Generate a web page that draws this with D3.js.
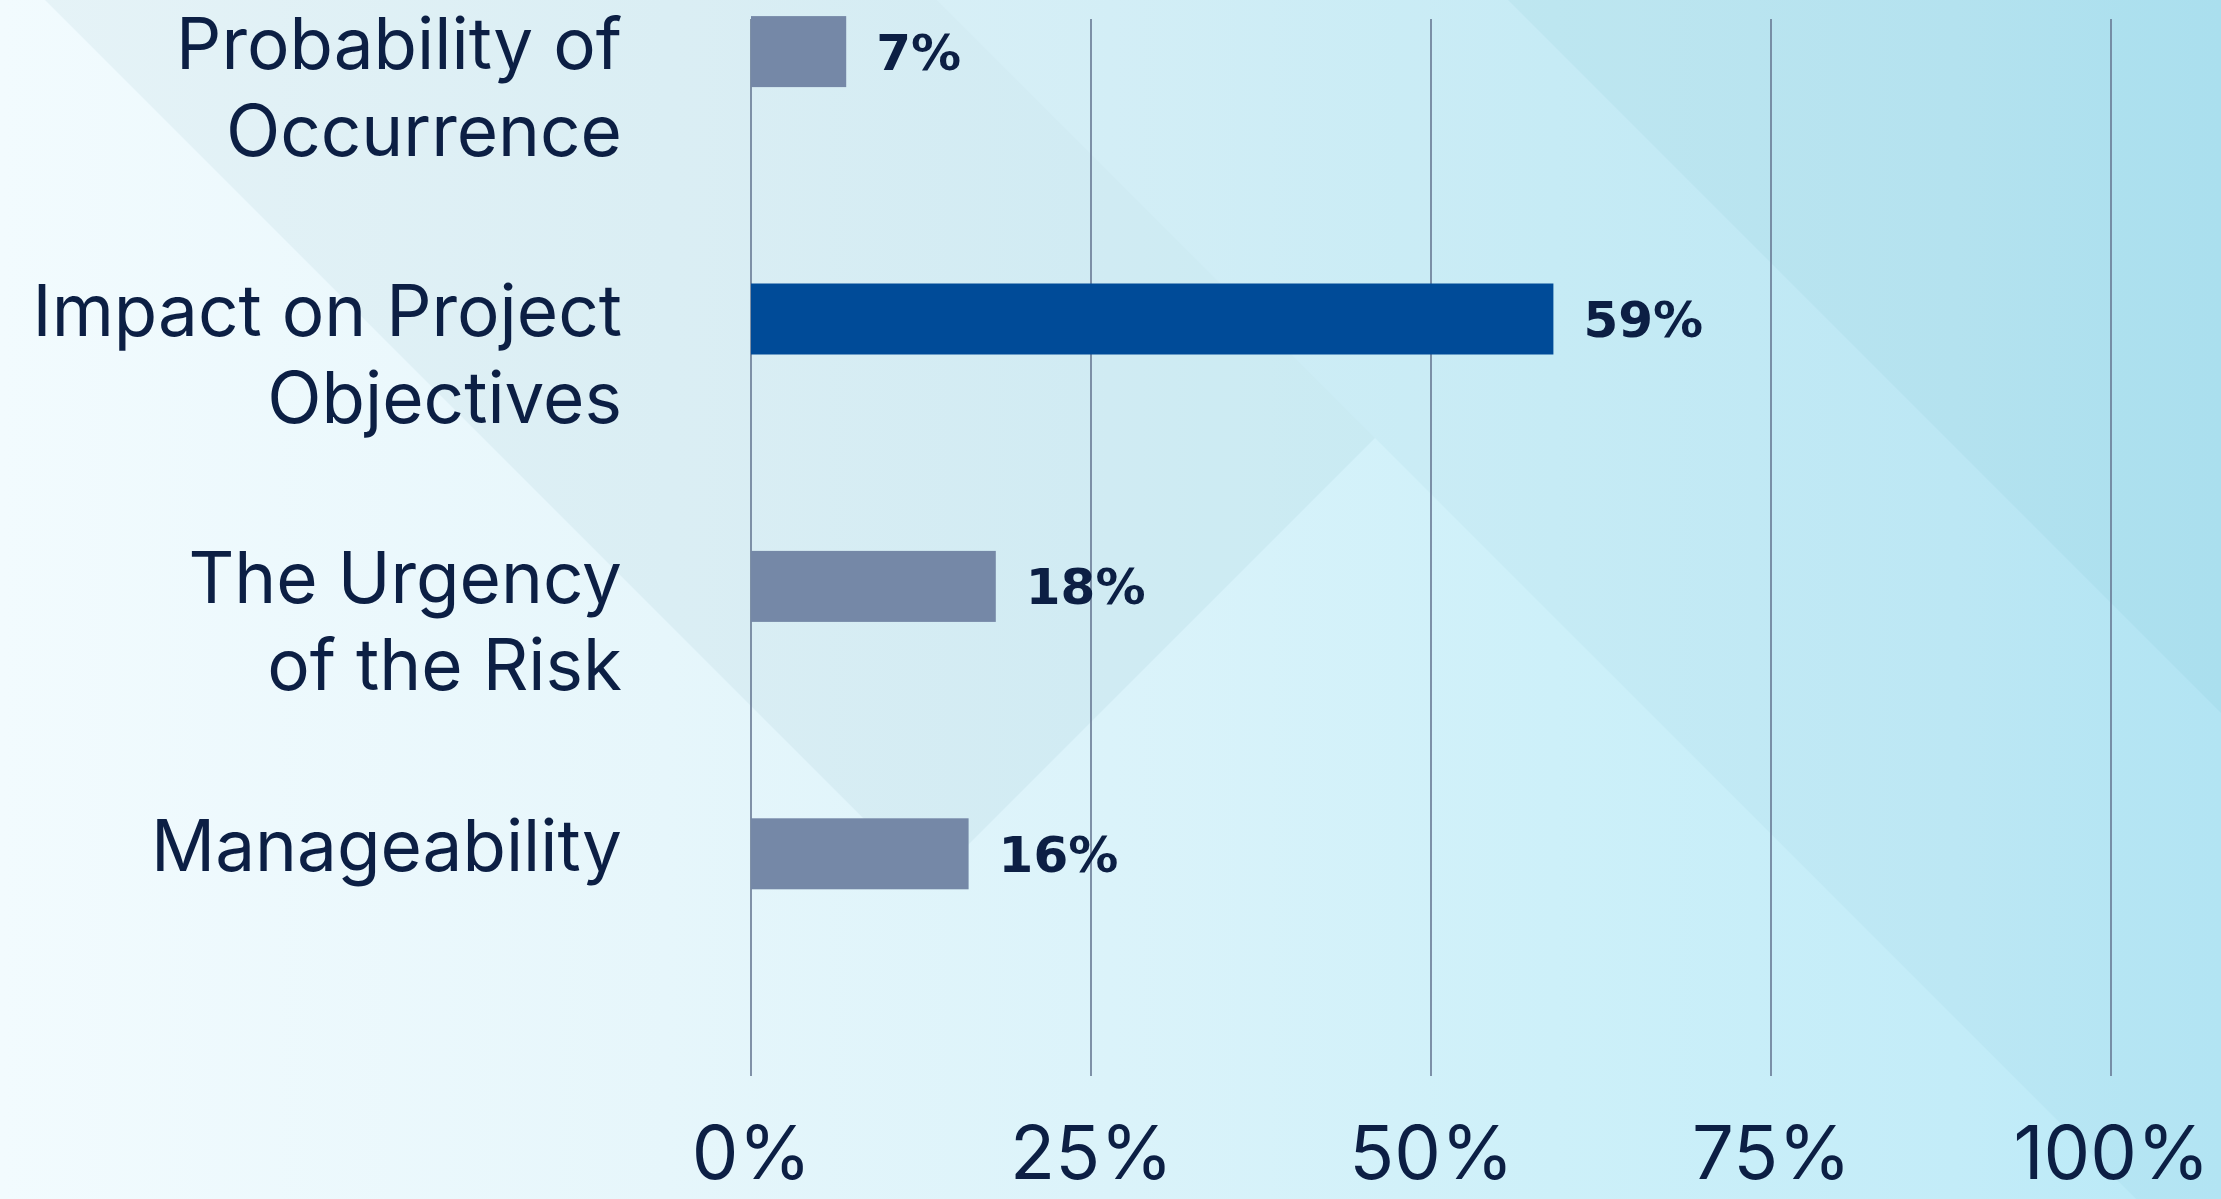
<!DOCTYPE html>
<html>
<head>
<meta charset="utf-8">
<script src="https://cdn.jsdelivr.net/npm/d3@7"></script>
<style>
  html, body { margin: 0; padding: 0; overflow: hidden; background: #eaf7fb; }
  svg { display: block; }
</style>
</head>
<body>
<svg id="chart" width="2221" height="1199"></svg>
<script>
// ---- data ----
const categories = ["Probability of Occurrence", "Impact on Project Objectives", "The Urgency of the Risk", "Manageability"];
const labelLines = [["Probability of", "Occurrence"], ["Impact on Project", "Objectives"], ["The Urgency", "of the Risk"], ["Manageability"]];
const values = [7, 59, 18, 16];
const highlighted = ["Impact on Project Objectives"];
const tickValues = [0, 25, 50, 75, 100];
const tickLabels = ["0%", "25%", "50%", "75%", "100%"];

// ---- layout ----
const W = 2221, H = 1199;
const svg = d3.select("#chart");
const ink = "#0c1f44";

// background
const defs = svg.append("defs");
const bg = defs.append("linearGradient").attr("id", "bg").attr("x1", 0).attr("x2", 1).attr("y1", 0).attr("y2", 0);
[[0, "#f2fbfe"], [0.3, "#e6f6fb"], [0.5, "#dbf3fa"], [0.7, "#cdf0f9"], [0.88, "#c3ecf8"], [1, "#b8e9f7"]]
  .forEach(([o, c]) => bg.append("stop").attr("offset", o).attr("stop-color", c));
svg.append("rect").attr("width", W).attr("height", H).attr("fill", "url(#bg)");

const deco = svg.append("g").attr("class", "deco");
const bands = [
  { pts: [[45, 0], [937, 0], [1375, 438], [929, 884]], op: 0.075, c: "#4f8e9c" },
  { pts: [[937, 0], [W, 0], [W, H], [937 + H, H]], op: 0.045, c: "#2a8aa3" },
  { pts: [[1508, 0], [W, 0], [W, W - 1508]], op: 0.05, c: "#2a8aa3" }
];
bands.forEach(b => deco.append("polygon")
  .attr("points", b.pts.map(p => p.join(",")).join(" "))
  .attr("fill", b.c).attr("fill-opacity", b.op));

// scales
const x = d3.scaleLinear().domain([0, 100]).range([751, 2111]);
const y = d3.scalePoint().domain(categories).range([51.6, 853.8]);
const barH = 71;
const gridTop = 19, gridBottom = 1076;

// gridlines
svg.append("g").selectAll("line").data(tickValues).join("line")
  .attr("x1", d => x(d)).attr("x2", d => x(d))
  .attr("y1", gridTop).attr("y2", gridBottom)
  .attr("stroke", "#677893").attr("stroke-width", 1.6);

// bars
svg.append("g").selectAll("rect").data(categories).join("rect")
  .attr("x", x(0))
  .attr("y", d => y(d) - barH / 2)
  .attr("width", (d, i) => x(values[i]) - x(0))
  .attr("height", barH)
  .attr("fill", d => highlighted.includes(d) ? "#004b98" : "#7588a7");

// value labels
svg.append("g").selectAll("text").data(categories).join("text")
  .attr("x", (d, i) => x(values[i]) + 30)
  .attr("y", d => y(d) + 18)
  .attr("font-family", "'DejaVu Sans', sans-serif")
  .attr("font-weight", 700)
  .attr("font-size", 50)
  .attr("fill", ink)
  .text((d, i) => values[i] + "%");

// category labels
const cat = svg.append("g").selectAll("text").data(categories).join("text")
  .attr("x", 622)
  .attr("y", d => y(d) + 17)
  .attr("text-anchor", "end")
  .attr("font-family", "Inter, 'Noto Sans', sans-serif")
  .attr("font-size", 71)
  .attr("fill", ink);
cat.selectAll("tspan").data((d, i) => labelLines[i]).join("tspan")
  .attr("x", 622)
  .attr("dy", (d, j) => j === 0 ? 0 : 87)
  .text(d => d);

// x axis
const xAxis = d3.axisBottom(x).tickValues(tickValues)
  .tickFormat((d, i) => tickLabels[i]).tickSize(0).tickPadding(0);
const ax = svg.append("g").attr("transform", "translate(0,1126)").call(xAxis);
ax.select(".domain").remove();
ax.selectAll("text")
  .attr("font-family", "Inter, 'Noto Sans', sans-serif")
  .attr("font-size", 74)
  .attr("fill", ink);
</script>
</body>
</html>
